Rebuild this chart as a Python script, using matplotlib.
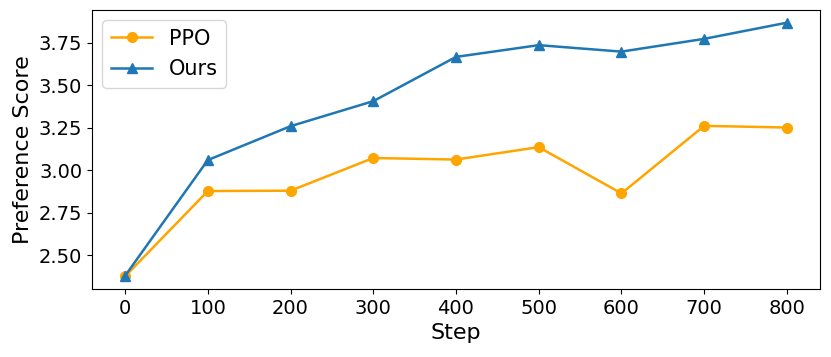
import matplotlib
matplotlib.use("Agg")
import matplotlib.pyplot as plt

steps = [0, 100, 200, 300, 400, 500, 600, 700, 800]
ppo = [2.377, 2.878, 2.880, 3.072, 3.063, 3.136, 2.864, 3.261, 3.251]
ours = [2.380, 3.060, 3.259, 3.406, 3.666, 3.735, 3.697, 3.772, 3.867]

fig = plt.figure(figsize=(8.31, 3.57), dpi=100)
ax = fig.add_axes([92/831, 1-289/357, (820-92)/831, (289-10)/357])
ax.plot(steps, ppo, color='orange', marker='o', markersize=7, linewidth=1.8, label='PPO')
ax.plot(steps, ours, color='#1f77b4', marker='^', markersize=7, linewidth=1.8, label='Ours')
ax.set_xticks(steps)
ax.set_yticks([2.50, 2.75, 3.00, 3.25, 3.50, 3.75])
ax.tick_params(labelsize=14)
ax.set_xlabel('Step', fontsize=16)
ax.set_ylabel('Preference Score', fontsize=16)
ax.legend(fontsize=15, loc='upper left')
fig.savefig('out.png', dpi=100)
